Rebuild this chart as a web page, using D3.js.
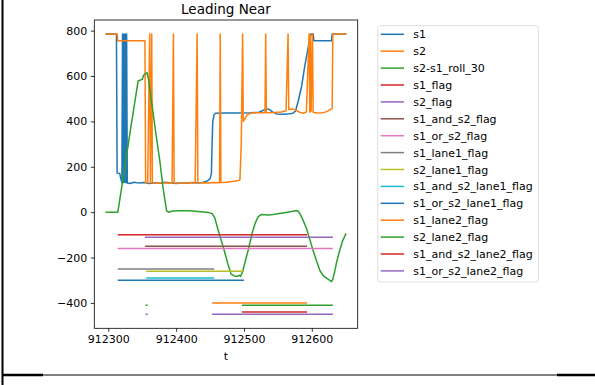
<!DOCTYPE html>
<html>
<head>
<meta charset="utf-8">
<script src="https://cdn.jsdelivr.net/npm/d3@7"></script>
<style>
    body { margin: 0; background: #fff; }
    svg { display: block; font-family: "DejaVu Sans", sans-serif; }
</style>
</head>
<body>
<div id="chart"></div>
<script>
// data
// ------------------------------------------------------

const title = "Leading Near";
const xLabel = "t";
const xTicks = [912300, 912400, 912500, 912600];
const yTicks = [-400, -200, 0, 200, 400, 600, 800];

// [t, value]
const s1 = [
    [912297, 785], [912312, 785], [912313, 172], [912317, 170], [912318, 152], [912320, 130],
    [912321, 785], [912322, 130], [912323, 785], [912324, 132], [912325, 785], [912326, 130],
    [912327, 785], [912328, 128], [912332, 126], [912338, 132], [912345, 128], [912352, 131],
    [912360, 126], [912368, 130], [912376, 127], [912384, 132], [912392, 128], [912400, 126],
    [912408, 129], [912416, 127], [912424, 131], [912432, 129], [912440, 132], [912446, 137],
    [912450, 148], [912452, 170], [912453, 300], [912454, 400], [912456, 430], [912458, 436],
    [912470, 437], [912490, 437], [912510, 438], [912522, 440], [912528, 448], [912533, 456],
    [912537, 453], [912542, 442], [912548, 433], [912556, 431], [912564, 432], [912572, 436],
    [912576, 445], [912580, 490], [912585, 555], [912590, 650], [912594, 715], [912597, 760],
    [912599, 785], [912602, 785], [912603, 755], [912629, 755], [912630, 785], [912650, 785]
];

const s2 = [
    [912297, 785], [912313, 785], [912314, 755], [912354, 755], [912355, 130], [912358, 128],
    [912361, 785], [912362, 128], [912364, 785], [912365, 130], [912370, 127], [912378, 129],
    [912386, 128], [912394, 127], [912396, 785], [912397, 128], [912404, 129], [912412, 127],
    [912420, 130], [912428, 128], [912431, 785], [912432, 129], [912440, 130], [912448, 128],
    [912456, 131], [912464, 130], [912465, 785], [912466, 131], [912474, 132], [912482, 135],
    [912490, 138], [912494, 142], [912496, 300], [912498, 785], [912499, 400], [912502, 415],
    [912505, 430], [912511, 437], [912520, 438], [912531, 438], [912532, 785], [912533, 438],
    [912545, 439], [912555, 441], [912562, 447], [912565, 785], [912566, 452], [912572, 455],
    [912577, 450], [912582, 440], [912588, 436], [912592, 442], [912596, 785], [912597, 440],
    [912598, 785], [912599, 445], [912601, 785], [912602, 440], [912608, 437], [912616, 438],
    [912622, 443], [912627, 452], [912630, 455], [912631, 785], [912650, 785]
];

const s2s1Roll30 = [
    [912297, 0], [912314, 0], [912319, 95], [912325, 210], [912332, 350], [912338, 465],
    [912344, 578], [912350, 585], [912352, 603], [912355, 611], [912357, 615], [912359, 590],
    [912364, 480], [912370, 350], [912376, 225], [912381, 100], [912386, 5], [912389, 0],
    [912395, 5], [912405, 6], [912415, 6], [912425, 5], [912432, 3], [912448, -2],
    [912453, -6], [912457, -25], [912461, -70], [912465, -110], [912471, -170], [912476, -225],
    [912481, -273], [912486, -281], [912490, -283], [912493, -278], [912495, -283], [912498, -262],
    [912502, -215], [912506, -170], [912510, -120], [912513, -82], [912517, -45], [912521, -20],
    [912526, -10], [912535, -12], [912543, -10], [912552, -6], [912562, -1], [912570, 3],
    [912577, 7], [912580, 4], [912583, -10], [912587, -35], [912592, -70], [912597, -120],
    [912602, -170], [912607, -215], [912612, -258], [912617, -280], [912622, -292], [912626, -300],
    [912629, -306], [912631, -295], [912634, -258], [912637, -215], [912641, -170], [912645, -130],
    [912650, -96]
];

// flag runs [tStart, tEnd], drawn at the flag's level
const s1Flag = [[912315, 912592]];
const s2Flag = [[912355, 912630]];
const s1AndS2Flag = [[912355, 912592]];
const s1OrS2Flag = [[912315, 912630]];
const s1Lane1Flag = [[912315, 912455]];
const s2Lane1Flag = [[912357, 912499]];
const s1AndS2Lane1Flag = [[912357, 912455]];
const s1OrS2Lane1Flag = [[912315, 912499]];
const s1Lane2Flag = [[912454, 912592]];
const s2Lane2Flag = [[912356, 912357], [912498, 912630]];
const s1AndS2Lane2Flag = [[912498, 912592]];
const s1OrS2Lane2Flag = [[912356, 912357], [912454, 912630]];

const flagLevels = [-100, -110, -150, -160, -250, -260, -290, -300, -400, -410, -440, -450];

const seriesNames = [
    "s1", "s2", "s2-s1_roll_30", "s1_flag", "s2_flag", "s1_and_s2_flag", "s1_or_s2_flag",
    "s1_lane1_flag", "s2_lane1_flag", "s1_and_s2_lane1_flag", "s1_or_s2_lane1_flag",
    "s1_lane2_flag", "s2_lane2_flag", "s1_and_s2_lane2_flag", "s1_or_s2_lane2_flag"
];

const colors = [
    "#1f77b4", "#ff7f0e", "#2ca02c", "#d62728", "#9467bd", "#8c564b", "#e377c2",
    "#7f7f7f", "#bcbd22", "#17becf"
];

// build series
// ------------------------------------------------------

let flagRuns = [s1Flag, s2Flag, s1AndS2Flag, s1OrS2Flag, s1Lane1Flag, s2Lane1Flag,
    s1AndS2Lane1Flag, s1OrS2Lane1Flag, s1Lane2Flag, s2Lane2Flag, s1AndS2Lane2Flag, s1OrS2Lane2Flag];

let series = [s1, s2, s2s1Roll30].map(pts => [pts]);
flagRuns.forEach((runs, k) => {
    series.push(runs.map(r => [[r[0], flagLevels[k]], [r[1], flagLevels[k]]]));
});

// layout
// ------------------------------------------------------

let width = 595,
    height = 385,
    plotLeft = 94.3,
    plotRight = 357.7,
    plotTop = 20,
    plotBottom = 328.3,
    fontSize = 11;

let svg = d3.select("#chart").append("svg")
    .attr("width", width)
    .attr("height", height);

svg.append("rect")
    .attr("width", width)
    .attr("height", height)
    .attr("fill", "#fff");

// scales (matplotlib style 5% margins)
// ------------------------------------------------------

let allPts = series.flat(2);
let xExt = d3.extent(allPts, d => d[0]);
let yExt = d3.extent(allPts, d => d[1]);
let xPad = (xExt[1] - xExt[0]) * 0.05;
let yPad = (yExt[1] - yExt[0]) * 0.05;

let xScale = d3.scaleLinear()
    .domain([xExt[0] - xPad, xExt[1] + xPad])
    .range([plotLeft, plotRight]);

let yScale = d3.scaleLinear()
    .domain([yExt[0] - yPad, yExt[1] + yPad])
    .range([plotBottom, plotTop]);

// lines
// ------------------------------------------------------

let line = d3.line()
    .x(d => xScale(d[0]))
    .y(d => yScale(d[1]));

let lines = svg.append("g").attr("class", "lines");
series.forEach((segs, i) => {
    lines.selectAll(".s" + i)
        .data(segs)
        .enter()
        .append("path")
            .attr("class", "s" + i)
            .attr("d", line)
            .attr("fill", "none")
            .attr("stroke", colors[i % colors.length])
            .attr("stroke-width", 1.5)
            .attr("stroke-linecap", "square")
            .attr("stroke-linejoin", "round");
});

// axes
// ------------------------------------------------------

let fmtY = v => (v < 0 ? "\u2212" + Math.abs(v) : String(v));

let xAxis = svg.append("g")
    .attr("transform", `translate(0, ${plotBottom})`)
    .call(d3.axisBottom(xScale).tickValues(xTicks).tickFormat(d3.format("d"))
        .tickSizeOuter(0).tickSize(3.5).tickPadding(3.5));

let yAxis = svg.append("g")
    .attr("transform", `translate(${plotLeft}, 0)`)
    .call(d3.axisLeft(yScale).tickValues(yTicks).tickFormat(fmtY)
        .tickSizeOuter(0).tickSize(3.5).tickPadding(3.5));

[xAxis, yAxis].forEach(a => {
    a.select(".domain").remove();
    a.selectAll("line").attr("stroke", "#000").attr("stroke-width", 0.8);
    a.selectAll("text")
        .attr("fill", "#000")
        .style("font-size", fontSize + "px")
        .style("font-family", "DejaVu Sans");
});

svg.append("rect")
    .attr("x", plotLeft)
    .attr("y", plotTop)
    .attr("width", plotRight - plotLeft)
    .attr("height", plotBottom - plotTop)
    .attr("fill", "none")
    .attr("stroke", "#000")
    .attr("stroke-width", 0.8);

// labels
// ------------------------------------------------------

svg.append("text")
    .attr("x", (plotLeft + plotRight) / 2)
    .attr("y", 14)
    .attr("text-anchor", "middle")
    .style("font-size", "13.5px")
    .text(title);

svg.append("text")
    .attr("x", (plotLeft + plotRight) / 2)
    .attr("y", 360)
    .attr("text-anchor", "middle")
    .style("font-size", fontSize + "px")
    .text(xLabel);

// legend
// ------------------------------------------------------

let legend = svg.append("g")
    .attr("transform", "translate(377.7, 25.7)");

legend.append("rect")
    .attr("width", 160.6)
    .attr("height", 256.3)
    .attr("rx", 2)
    .attr("fill", "#fff")
    .attr("fill-opacity", 0.8)
    .attr("stroke", "#d6d6d6")
    .attr("stroke-width", 0.8);

let items = legend.selectAll(".item")
    .data(seriesNames)
    .enter()
    .append("g")
        .attr("class", "item")
        .attr("transform", (d, i) => `translate(0, ${8.6 + i * 16.9})`);

items.append("line")
    .attr("x1", 3)
    .attr("x2", 26.3)
    .attr("stroke", (d, i) => colors[i % colors.length])
    .attr("stroke-width", 1.5);

items.append("text")
    .attr("x", 35.6)
    .attr("y", 4)
    .style("font-size", fontSize + "px")
    .attr("fill", "#000")
    .text(d => d);

// outer frame
// ------------------------------------------------------

svg.append("line")
    .attr("x1", 2.5).attr("x2", 2.5)
    .attr("y1", 0).attr("y2", height)
    .attr("stroke", "#000").attr("stroke-width", 2);

svg.append("line")
    .attr("x1", 2).attr("x2", width)
    .attr("y1", 375).attr("y2", 375)
    .attr("stroke", "#000").attr("stroke-width", 1);

svg.append("line")
    .attr("x1", 2).attr("x2", 43)
    .attr("y1", 375).attr("y2", 375)
    .attr("stroke", "#000").attr("stroke-width", 2.5);

svg.append("line")
    .attr("x1", 557).attr("x2", width)
    .attr("y1", 375).attr("y2", 375)
    .attr("stroke", "#000").attr("stroke-width", 2.5);
</script>
</body>
</html>
